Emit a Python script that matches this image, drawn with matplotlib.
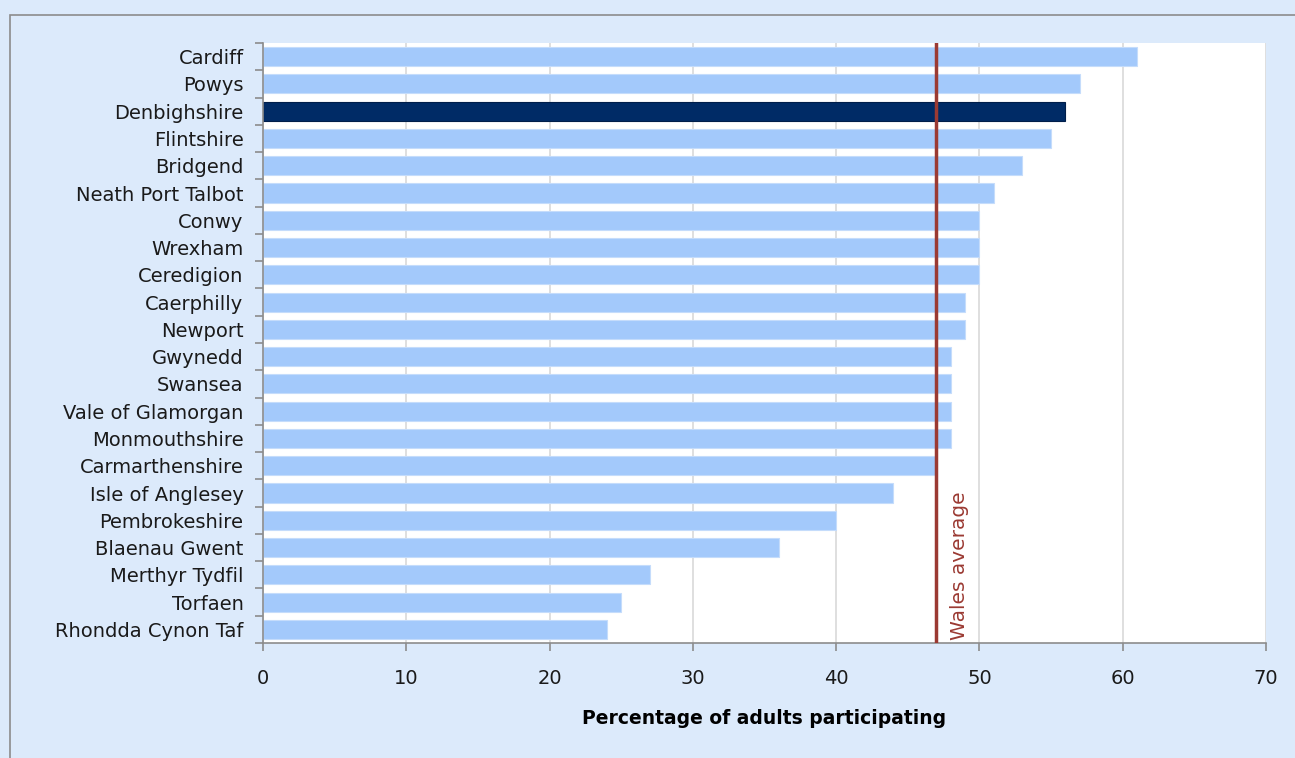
import matplotlib
matplotlib.use("Agg")
import matplotlib.pyplot as plt
from matplotlib.patches import Rectangle

areas = ["Cardiff", "Powys", "Denbighshire", "Flintshire", "Bridgend", "Neath Port Talbot",
         "Conwy", "Wrexham", "Ceredigion", "Caerphilly", "Newport", "Gwynedd", "Swansea",
         "Vale of Glamorgan", "Monmouthshire", "Carmarthenshire", "Isle of Anglesey",
         "Pembrokeshire", "Blaenau Gwent", "Merthyr Tydfil", "Torfaen", "Rhondda Cynon Taf"]
values = [61, 57, 56, 55, 53, 51, 50, 50, 50, 49, 49, 48, 48, 48, 48, 47, 44, 40, 36, 27, 25, 24]
highlight = "Denbighshire"
wales_average = 47
xticks = [0, 10, 20, 30, 40, 50, 60, 70]

bg = "#DCEAFB"
fig = plt.figure(figsize=(12.95, 7.58), dpi=100, facecolor=bg)
fig.patches.append(Rectangle((10/1295, -0.1), 1.2, 1 - 15/758 + 0.1, transform=fig.transFigure,
                             fill=False, edgecolor="#8C8C8C", linewidth=1.2))
ax = fig.add_axes([263/1295, 1 - 643/758, (1266 - 263)/1295, 600/758])
ax.set_facecolor("white")

n = len(areas)
ypos = list(range(n))
colors = ["#002B66" if a == highlight else "#A3C9FB" for a in areas]
edges = ["#001E4A" if a == highlight else "#C5DCFB" for a in areas]
ax.barh(ypos, values, height=0.7, color=colors, edgecolor=edges, linewidth=0.8, zorder=2)
ax.set_ylim(n - 0.5, -0.5)
ax.set_xlim(0, 70)
ax.set_xticks(xticks)
ax.set_yticks(ypos)
ax.set_yticklabels(areas, fontsize=14, color="#1a1a1a")
ax.set_yticks([i - 0.5 for i in range(n + 1)], minor=True)
ax.tick_params(axis="y", which="major", length=0, pad=14)
ax.tick_params(axis="y", which="minor", length=6, color="#8C8C8C", width=1.2)
ax.tick_params(axis="x", length=6, color="#8C8C8C", width=1.2, labelsize=14, pad=13, labelcolor="#1a1a1a")
ax.grid(axis="x", color="#D9D9D9", linewidth=1.2, zorder=0)
ax.set_axisbelow(True)
for s in ["top", "right"]:
    ax.spines[s].set_visible(False)
for s in ["left", "bottom"]:
    ax.spines[s].set_color("#8C8C8C")
    ax.spines[s].set_linewidth(1.2)

ax.axvline(wales_average, color="#9B3A33", linewidth=2.5, zorder=3)
ax.text(wales_average + 1.6, n - 0.6, "Wales average", rotation=90, color="#9B3A33",
        fontsize=14.5, ha="center", va="bottom")

ax.set_xlabel("Percentage of adults participating", fontsize=13.5, fontweight="bold",
              labelpad=15, color="black")

fig.savefig("out.png", dpi=100, facecolor=bg)
